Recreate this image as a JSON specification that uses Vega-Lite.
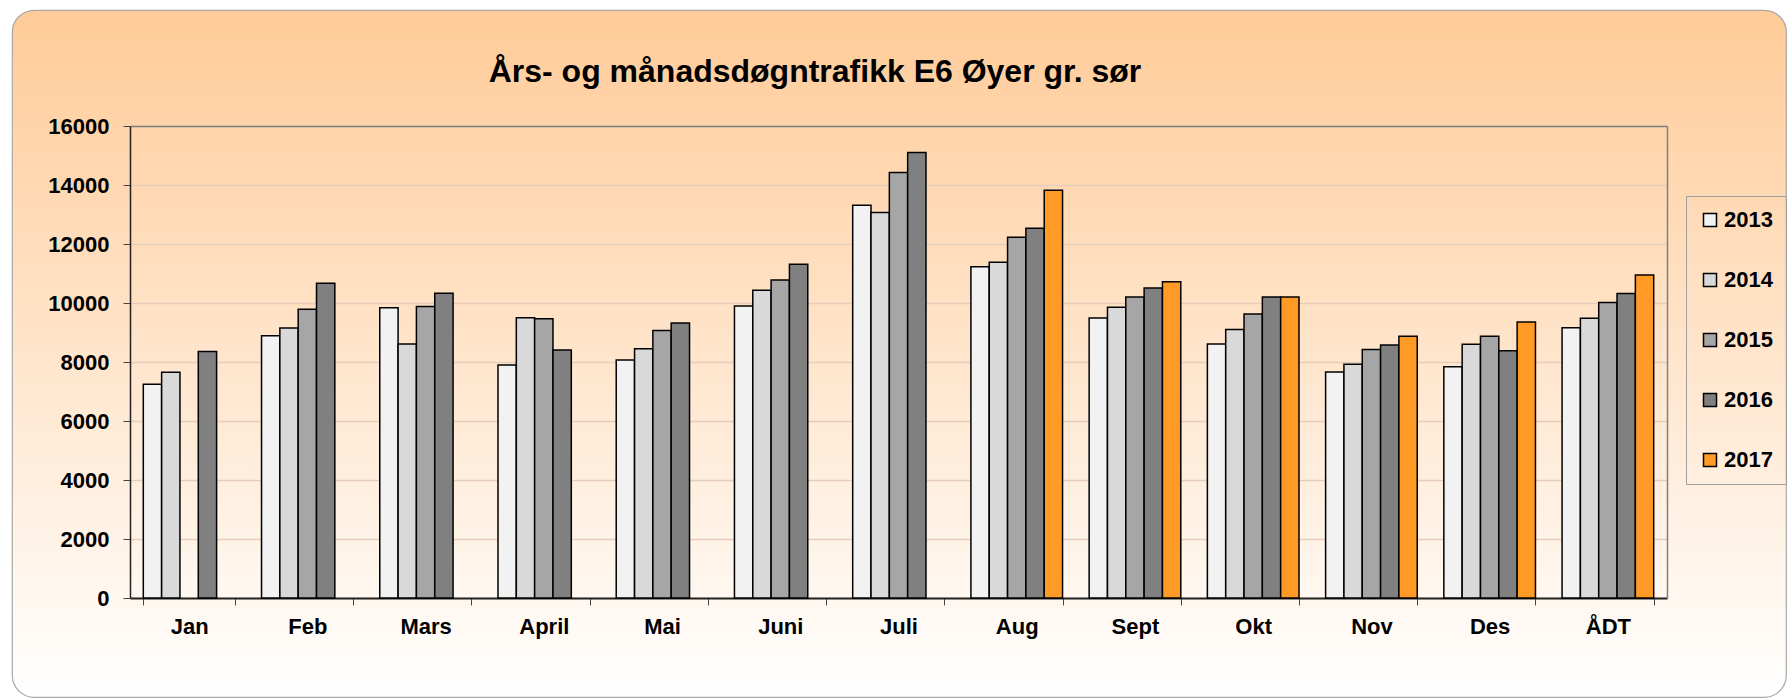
{
  "$schema": "https://vega.github.io/schema/vega-lite/v6.json",
  "width": 1774,
  "height": 687,
  "autosize": {"type": "none"},
  "padding": {"left": 12, "top": 10, "right": 5, "bottom": 1},
  "background": "white",
  "view": {
    "fill": {"gradient": "linear", "x1": 0, "y1": 0, "x2": 0, "y2": 1,
      "stops": [{"offset": 0, "color": "#FFCB98"}, {"offset": 1, "color": "#FFFFFF"}]},
    "stroke": "#A8A8A8", "strokeWidth": 1.2, "cornerRadius": 22
  },
  "title": {
    "text": "Års- og månadsdøgntrafikk E6 Øyer gr. sør",
    "font": "Liberation Sans", "fontSize": 32, "fontWeight": "bold", "color": "#000",
    "anchor": "middle", "frame": "group", "offset": -104, "baseline": "alphabetic", "dx": -84
  },
  "data": {"values": [
    {"m": "Jan", "year": "2013", "v": 7250}, {"m": "Jan", "year": "2014", "v": 7650}, {"m": "Jan", "year": "2016", "v": 8360},
    {"m": "Feb", "year": "2013", "v": 8890}, {"m": "Feb", "year": "2014", "v": 9150}, {"m": "Feb", "year": "2015", "v": 9790}, {"m": "Feb", "year": "2016", "v": 10670},
    {"m": "Mars", "year": "2013", "v": 9840}, {"m": "Mars", "year": "2014", "v": 8610}, {"m": "Mars", "year": "2015", "v": 9880}, {"m": "Mars", "year": "2016", "v": 10330},
    {"m": "April", "year": "2013", "v": 7900}, {"m": "April", "year": "2014", "v": 9500}, {"m": "April", "year": "2015", "v": 9470}, {"m": "April", "year": "2016", "v": 8410},
    {"m": "Mai", "year": "2013", "v": 8070}, {"m": "Mai", "year": "2014", "v": 8450}, {"m": "Mai", "year": "2015", "v": 9070}, {"m": "Mai", "year": "2016", "v": 9320},
    {"m": "Juni", "year": "2013", "v": 9900}, {"m": "Juni", "year": "2014", "v": 10430}, {"m": "Juni", "year": "2015", "v": 10780}, {"m": "Juni", "year": "2016", "v": 11310},
    {"m": "Juli", "year": "2013", "v": 13310}, {"m": "Juli", "year": "2014", "v": 13070}, {"m": "Juli", "year": "2015", "v": 14420}, {"m": "Juli", "year": "2016", "v": 15100},
    {"m": "Aug", "year": "2013", "v": 11230}, {"m": "Aug", "year": "2014", "v": 11380}, {"m": "Aug", "year": "2015", "v": 12230}, {"m": "Aug", "year": "2016", "v": 12530}, {"m": "Aug", "year": "2017", "v": 13820},
    {"m": "Sept", "year": "2013", "v": 9490}, {"m": "Sept", "year": "2014", "v": 9860}, {"m": "Sept", "year": "2015", "v": 10200}, {"m": "Sept", "year": "2016", "v": 10510}, {"m": "Sept", "year": "2017", "v": 10720},
    {"m": "Okt", "year": "2013", "v": 8610}, {"m": "Okt", "year": "2014", "v": 9100}, {"m": "Okt", "year": "2015", "v": 9630}, {"m": "Okt", "year": "2016", "v": 10200}, {"m": "Okt", "year": "2017", "v": 10200},
    {"m": "Nov", "year": "2013", "v": 7660}, {"m": "Nov", "year": "2014", "v": 7920}, {"m": "Nov", "year": "2015", "v": 8420}, {"m": "Nov", "year": "2016", "v": 8580}, {"m": "Nov", "year": "2017", "v": 8870},
    {"m": "Des", "year": "2013", "v": 7840}, {"m": "Des", "year": "2014", "v": 8600}, {"m": "Des", "year": "2015", "v": 8870}, {"m": "Des", "year": "2016", "v": 8380}, {"m": "Des", "year": "2017", "v": 9360},
    {"m": "ÅDT", "year": "2013", "v": 9160}, {"m": "ÅDT", "year": "2014", "v": 9480}, {"m": "ÅDT", "year": "2015", "v": 10020}, {"m": "ÅDT", "year": "2016", "v": 10320}, {"m": "ÅDT", "year": "2017", "v": 10950}
  ]},
  "layer": [
    {
      "mark": {"type": "bar", "stroke": "#000", "strokeWidth": 1.5},
      "encoding": {
        "x": {
          "field": "m", "type": "nominal",
          "sort": ["Jan", "Feb", "Mars", "April", "Mai", "Juni", "Juli", "Aug", "Sept", "Okt", "Nov", "Des", "ÅDT"],
          "scale": {"domain": ["Jan", "Feb", "Mars", "April", "Mai", "Juni", "Juli", "Aug", "Sept", "Okt", "Nov", "Des", "ÅDT"],
            "range": [118, 1655], "paddingInner": 0.225, "paddingOuter": 0.1125},
          "axis": {"orient": "bottom", "offset": -99, "title": null, "labelAngle": 0,
            "labelFont": "Liberation Sans", "labelFontSize": 22, "labelFontWeight": "bold", "labelColor": "#000",
            "labelPadding": 11, "tickBand": "extent", "tickSize": 7, "tickColor": "#444", "tickWidth": 1,
            "domainColor": "#222", "domainWidth": 2, "grid": false}
        },
        "xOffset": {"field": "year", "type": "nominal",
          "scale": {"domain": ["2013", "2014", "2015", "2016", "2017"], "paddingInner": 0, "paddingOuter": 0}},
        "y": {
          "field": "v", "type": "quantitative",
          "scale": {"domain": [0, 16000], "nice": false, "range": [588, 116]},
          "axis": {"orient": "left", "offset": -118, "title": null,
            "values": [0, 2000, 4000, 6000, 8000, 10000, 12000, 14000, 16000], "format": "d",
            "labelFont": "Liberation Sans", "labelFontSize": 22, "labelFontWeight": "bold", "labelColor": "#000",
            "labelPadding": 14, "tickSize": 7, "tickColor": "#444", "domainColor": "#222", "domainWidth": 1.5,
            "grid": true, "gridColor": "#E6CDBB", "gridWidth": 1.5}
        },
        "fill": {
          "field": "year", "type": "nominal",
          "scale": {"domain": ["2013", "2014", "2015", "2016", "2017"],
            "range": ["#F2F2F2", "#D9D9D9", "#A6A6A6", "#808080", "#FF9A26"]},
          "legend": {"orient": "none", "legendX": 1674, "legendY": 186, "title": null,
            "symbolType": "square", "symbolSize": 169, "symbolStrokeColor": "#000", "symbolStrokeWidth": 1.5,
            "labelFont": "Liberation Sans", "labelFontSize": 22, "labelFontWeight": "bold", "labelColor": "#000",
            "labelOffset": 3, "rowPadding": 38, "padding": 13, "strokeColor": "#A0A0A0"}
        }
      }
    },
    {
      "mark": {"type": "point", "opacity": 0},
      "encoding": {
        "x": {"field": "m", "type": "nominal",
          "axis": {"orient": "top", "offset": -116, "title": null, "labels": false, "ticks": false, "grid": false,
            "domainColor": "#808080", "domainWidth": 1.5}},
        "y": {"field": "v", "type": "quantitative",
          "axis": {"orient": "right", "offset": -119, "title": null, "labels": false, "ticks": false, "grid": false,
            "domainColor": "#808080", "domainWidth": 1.5}}
      }
    }
  ],
  "resolve": {"axis": {"x": "independent", "y": "independent"}}
}
